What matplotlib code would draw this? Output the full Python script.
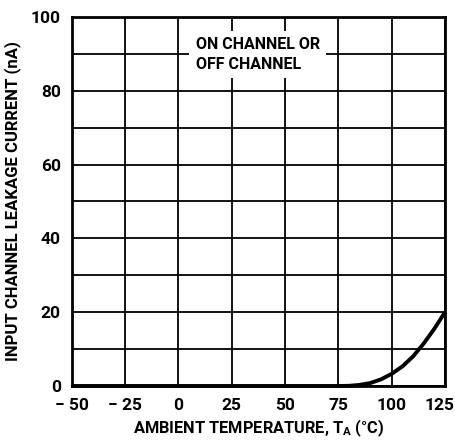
import matplotlib.pyplot as plt
import matplotlib.transforms as mtransforms
from matplotlib.ticker import MultipleLocator

# leakage curve
temp_c = [-50, -25, 0, 25, 50, 75, 80, 85, 90, 95, 100, 105, 110, 115, 120, 125]
leak_na = [0, 0, 0, 0, 0, 0, 0.05, 0.3, 0.8, 1.8, 3.3, 5.3, 8.0, 11.5, 15.5, 20.0]

xticks = [-50, -25, 0, 25, 50, 75, 100, 125]
yticks = [0, 20, 40, 60, 80, 100]

plt.rcParams['font.family'] = ['Roboto', 'DejaVu Sans']
plt.rcParams['font.weight'] = 'bold'
plt.rcParams['axes.labelweight'] = 'bold'
plt.rcParams['mathtext.fontset'] = 'custom'
plt.rcParams['mathtext.bf'] = 'Roboto:bold'

fig = plt.figure(figsize=(4.55, 4.45), dpi=100, facecolor='white')
ax = fig.add_axes([0.158, 0.1326, 0.820, 0.8294])

ax.plot(temp_c, leak_na, color='black', lw=2.8, solid_capstyle='butt', zorder=3, clip_on=False)

ax.set_xlim(-50, 125)
ax.set_ylim(0, 100)
ax.set_xticks(xticks)
ax.set_xticklabels([str(t).replace('-', '\u2212 ') for t in xticks])
ax.set_yticks(yticks)
ax.yaxis.set_minor_locator(MultipleLocator(10))
ax.grid(True, which='both', color='black', lw=1.3)
ax.tick_params(which='both', length=0, labelsize=12.5)
ax.tick_params(axis='x', pad=9)
ax.tick_params(axis='y', pad=8)
for s in ax.spines.values():
    s.set_linewidth(2)

# nudge the last x label so it stays inside the figure
last = ax.get_xticklabels()[-1]
last.set_transform(last.get_transform() + mtransforms.ScaledTranslation(-5 / 100, 0, fig.dpi_scale_trans))

ax.set_xlabel('AMBIENT TEMPERATURE, T$_\\mathbf{A}$ (°C)', fontsize=11.8, labelpad=3)
ax.set_ylabel('INPUT CHANNEL LEAKAGE CURRENT (nA)', fontsize=12, labelpad=7)

ax.text(8, 94.6, 'ON CHANNEL OR\nOFF CHANNEL', fontsize=11.5, va='top', ha='left',
        linespacing=1.45, zorder=4,
        bbox=dict(facecolor='white', edgecolor='none', pad=4.5))

fig.savefig('out.png', dpi=100)
